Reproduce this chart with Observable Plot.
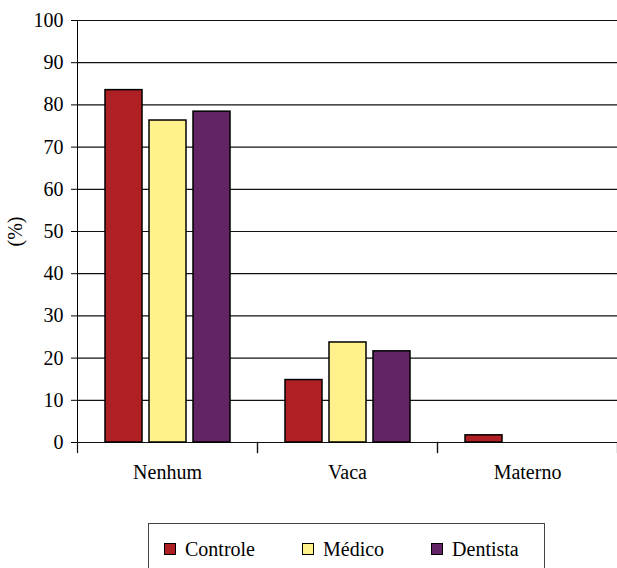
<!DOCTYPE html>
<html>
<head>
<meta charset="utf-8">
<script src="https://cdn.jsdelivr.net/npm/d3@7"></script>
<script src="https://cdn.jsdelivr.net/npm/@observablehq/plot@0.6"></script>
<style>
  html, body { margin: 0; padding: 0; background: #fff; overflow: hidden; }
  #wrap { position: relative; width: 617px; height: 568px; font-family: 'Times New Roman', Times, Tinos, 'Noto Serif', 'Liberation Serif', 'DejaVu Serif', serif; }
  #legend {
    position: absolute; left: 148px; top: 523px; width: 397px; height: 52px;
    border: 1px solid #444; box-sizing: border-box;
    display: flex; align-items: center; padding-left: 15px; gap: 47px;
    font-size: 20px; color: #000;
  }
  .item { display: flex; align-items: center; gap: 9px; }
  .sw { width: 12px; height: 12px; border: 1px solid #000; box-sizing: border-box; }
</style>
</head>
<body>
<div id="wrap">
  <div id="chart"></div>
  <div id="legend"></div>
</div>
<script>
// Feeding type categories and study groups
const categories = ["Nenhum", "Vaca", "Materno"];
const groups = ["Controle", "Médico", "Dentista"];

// Percentages per group, in category order
const controle = [83.5, 14.8, 1.7];
const medico = [76.3, 23.7, 0];
const dentista = [78.4, 21.6, 0];

const groupColors = ["#AE2024", "#FFF28C", "#632466"];
const yTicks = [0, 10, 20, 30, 40, 50, 60, 70, 80, 90, 100];

const valuesByGroup = [controle, medico, dentista];
const rows = [];
groups.forEach((g, gi) => {
  categories.forEach((c, ci) => {
    const v = valuesByGroup[gi][ci];
    if (v > 0) rows.push({category: c, group: g, value: v});
  });
});

const W = 617, H = 500, mTop = 20, mBottom = 58, mLeft = 77, mRight = 0;
const plotH = H - mTop - mBottom;
const serif = "'Times New Roman', Times, Tinos, 'Noto Serif', 'Liberation Serif', 'DejaVu Serif', serif";

const chart = Plot.plot({
  width: W,
  height: H,
  marginLeft: mLeft,
  marginRight: mRight,
  marginTop: mTop,
  marginBottom: mBottom,
  style: {fontFamily: serif, fontSize: "20px", color: "#000", background: "#fff", overflow: "visible"},
  fx: {domain: categories, padding: 0, axis: "bottom", label: null, tickSize: 0, tickPadding: 22},
  x: {domain: groups, paddingInner: 0.16, paddingOuter: 0.625, axis: null},
  y: {domain: [0, 100], ticks: yTicks, tickSize: 6, tickPadding: 8, label: "(%)", labelAnchor: "center", labelArrow: "none", labelOffset: 70, line: true},
  color: {domain: groups, range: groupColors},
  marks: [
    Plot.gridY(yTicks, {stroke: "#111", strokeOpacity: 1, strokeWidth: 1.2}),
    // category separators below the baseline
    Plot.frame({anchor: "left", insetTop: plotH, insetBottom: -10, stroke: "#111", strokeWidth: 1.2}),
    Plot.frame({anchor: "right", insetTop: plotH, insetBottom: -10, stroke: "#111", strokeWidth: 1.2}),
    Plot.barY(rows, {fx: "category", x: "group", y: "value", fill: "group", stroke: "#000", strokeWidth: 1.5})
  ]
});
document.getElementById("chart").appendChild(chart);

// legend
const legend = document.getElementById("legend");
groups.forEach((g, i) => {
  const item = document.createElement("div");
  item.className = "item";
  const sw = document.createElement("div");
  sw.className = "sw";
  sw.style.background = groupColors[i];
  const label = document.createElement("span");
  label.textContent = g;
  item.appendChild(sw);
  item.appendChild(label);
  legend.appendChild(item);
});
</script>
</body>
</html>
